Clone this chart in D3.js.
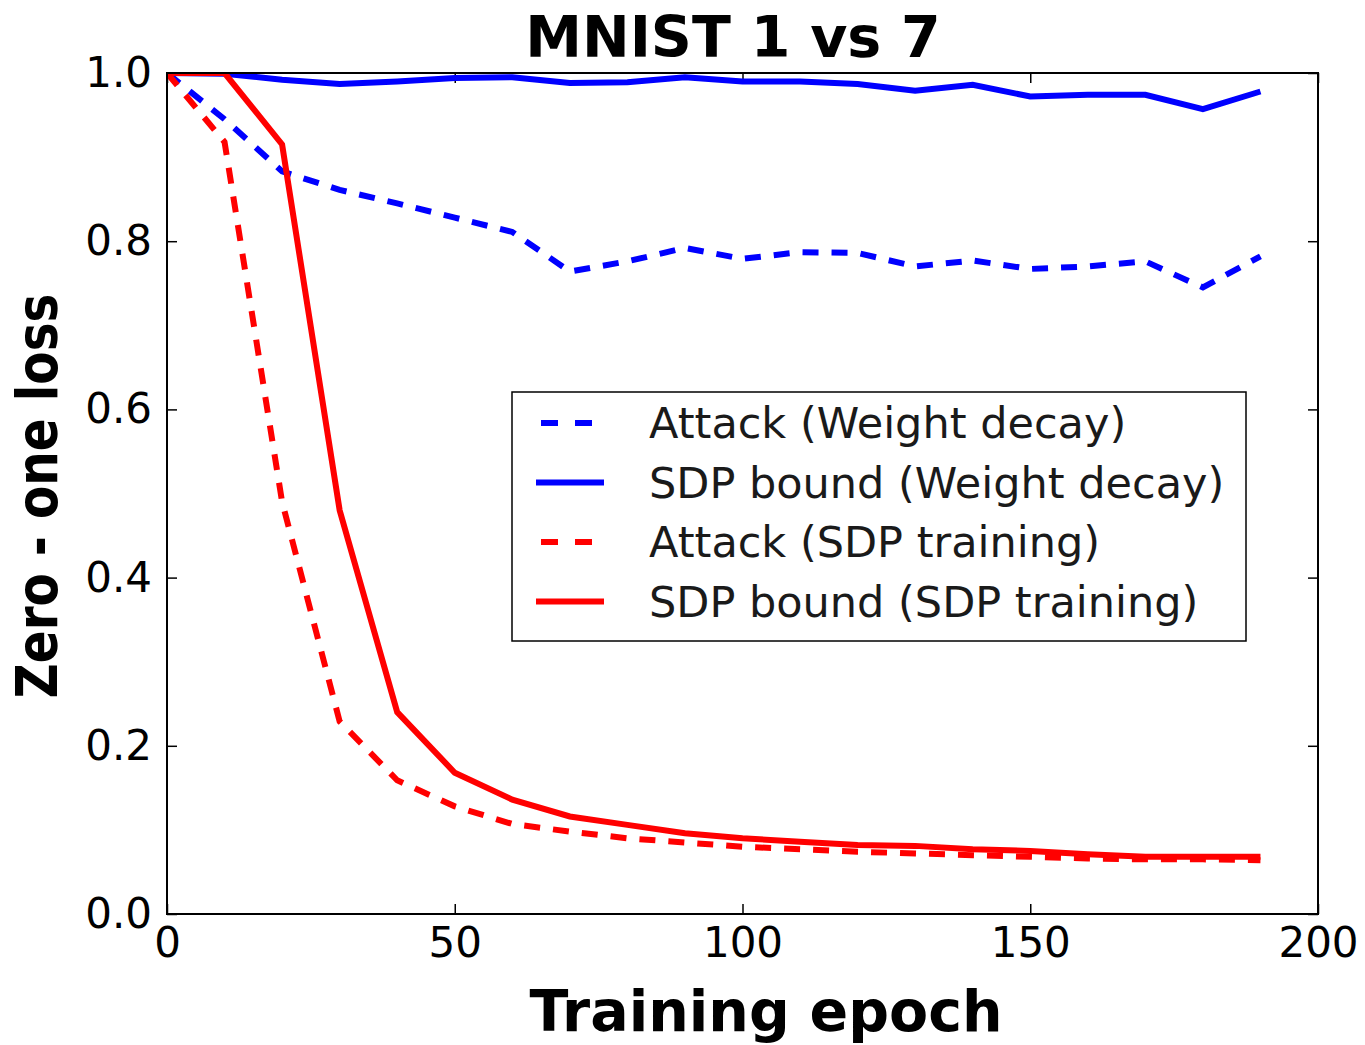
<!DOCTYPE html>
<html>
<head>
<meta charset="utf-8">
<script src="https://cdn.jsdelivr.net/npm/d3@7"></script>
<style>
  body { margin: 0; background: #fff; }
  text { font-family: "DejaVu Sans", sans-serif; fill: #000; }
  .tick-label { font-size: 42px; }
  .axis-title { font-size: 57px; font-weight: bold; }
  .legend-label { font-size: 43px; fill: #1a1a1a; }
</style>
</head>
<body>
<svg id="chart"></svg>
<script>
// values, one point every 10 epochs
const epochs = [0, 10, 20, 30, 40, 50, 60, 70, 80, 90, 100, 110, 120, 130, 140, 150, 160, 170, 180, 190];
const attackWeightDecay = [1.0, 0.945, 0.883, 0.861, 0.845, 0.828, 0.811, 0.764, 0.776, 0.792, 0.779, 0.787, 0.786, 0.770, 0.777, 0.767, 0.770, 0.776, 0.745, 0.782];
const boundWeightDecay = [1.0, 0.999, 0.992, 0.987, 0.990, 0.994, 0.995, 0.988, 0.989, 0.995, 0.990, 0.990, 0.987, 0.979, 0.986, 0.972, 0.974, 0.974, 0.957, 0.978];
const attackSdp = [1.0, 0.918, 0.49, 0.229, 0.159, 0.128, 0.107, 0.098, 0.090, 0.085, 0.080, 0.077, 0.074, 0.072, 0.070, 0.068, 0.066, 0.065, 0.065, 0.064];
const boundSdp = [1.0, 1.0, 0.915, 0.48, 0.240, 0.168, 0.136, 0.116, 0.106, 0.096, 0.090, 0.086, 0.082, 0.081, 0.077, 0.075, 0.071, 0.068, 0.068, 0.068];

const xTicks = [0, 50, 100, 150, 200];
const yTicks = [0.0, 0.2, 0.4, 0.6, 0.8, 1.0];

const series = [
  { label: 'Attack (Weight decay)', values: attackWeightDecay, color: '#0000ff', dashed: true },
  { label: 'SDP bound (Weight decay)', values: boundWeightDecay, color: '#0000ff', dashed: false },
  { label: 'Attack (SDP training)', values: attackSdp, color: '#ff0000', dashed: true },
  { label: 'SDP bound (SDP training)', values: boundSdp, color: '#ff0000', dashed: false }
];

const width = 1365, height = 1045;
const margin = { top: 73, right: 47, bottom: 131, left: 167 };
const innerW = width - margin.left - margin.right;
const innerH = height - margin.top - margin.bottom;
const dash = '16,13';

const svg = d3.select('#chart')
  .attr('width', width)
  .attr('height', height);

const chart = svg.append('g')
  .attr('transform', `translate(${margin.left},${margin.top})`);

const xScale = d3.scaleLinear().domain([0, 200]).range([0, innerW]);
const yScale = d3.scaleLinear().domain([0, 1]).range([innerH, 0]);

chart.append('clipPath').attr('id', 'plot-clip')
  .append('rect').attr('width', innerW).attr('height', innerH);

// inward ticks on all four sides, labels only on bottom/left
const tickLen = 10;
const axisBottom = d3.axisBottom(xScale).tickValues(xTicks).tickSize(-tickLen).tickPadding(14).tickFormat(d3.format('d'));
const axisTop = d3.axisTop(xScale).tickValues(xTicks).tickSize(-tickLen).tickFormat('');
const axisLeft = d3.axisLeft(yScale).tickValues(yTicks).tickSize(-tickLen).tickPadding(15).tickFormat(d3.format('.1f'));
const axisRight = d3.axisRight(yScale).tickValues(yTicks).tickSize(-tickLen).tickFormat('');

function styleAxis(g) {
  g.select('.domain').remove();
  g.selectAll('.tick line').attr('stroke', '#000').attr('stroke-width', 1.5);
  g.selectAll('.tick text').attr('class', 'tick-label').attr('font-size', null).attr('font-family', null);
}

chart.append('g').attr('transform', `translate(0,${innerH})`).call(axisBottom).call(styleAxis)
  .selectAll('.tick text').attr('dy', '0.71em').attr('y', 13);
chart.append('g').call(axisTop).call(styleAxis);
chart.append('g').call(axisLeft).call(styleAxis);
chart.append('g').attr('transform', `translate(${innerW},0)`).call(axisRight).call(styleAxis);

const line = d3.line()
  .x((d, i) => xScale(epochs[i]))
  .y(d => yScale(d));

chart.append('g').attr('clip-path', 'url(#plot-clip)')
  .selectAll('path')
  .data(series)
  .join('path')
  .attr('d', d => line(d.values))
  .attr('fill', 'none')
  .attr('stroke', d => d.color)
  .attr('stroke-width', 6)
  .attr('stroke-dasharray', d => d.dashed ? dash : null);

// frame
chart.append('rect')
  .attr('width', innerW).attr('height', innerH)
  .attr('fill', 'none').attr('stroke', '#000').attr('stroke-width', 2);

// legend
const legend = svg.append('g').attr('transform', 'translate(512,392)');
legend.append('rect')
  .attr('width', 734).attr('height', 249)
  .attr('fill', '#fff').attr('stroke', '#000').attr('stroke-width', 1.5);

const rows = legend.selectAll('.legend-row')
  .data(series)
  .join('g')
  .attr('class', 'legend-row')
  .attr('transform', (d, i) => `translate(0,${31 + i * 59.5})`);

rows.append('line')
  .attr('x1', 24).attr('x2', 92)
  .attr('stroke', d => d.color)
  .attr('stroke-width', 6)
  .attr('stroke-dasharray', d => d.dashed ? '17,17' : null)
  .attr('stroke-dashoffset', d => d.dashed ? -5 : null);

rows.append('text')
  .attr('class', 'legend-label')
  .attr('x', 137)
  .attr('dy', '0.36em')
  .text(d => d.label);

// titles
svg.append('text')
  .attr('class', 'axis-title')
  .attr('x', 733).attr('y', 57)
  .attr('text-anchor', 'middle')
  .text('MNIST 1 vs 7');

svg.append('text')
  .attr('class', 'axis-title')
  .attr('x', 766).attr('y', 1031)
  .attr('text-anchor', 'middle')
  .text('Training epoch');

svg.append('text')
  .attr('class', 'axis-title')
  .attr('transform', 'translate(57,496) rotate(-90)')
  .attr('text-anchor', 'middle')
  .attr('textLength', 405)
  .attr('lengthAdjust', 'spacingAndGlyphs')
  .text('Zero - one loss');
</script>
</body>
</html>
